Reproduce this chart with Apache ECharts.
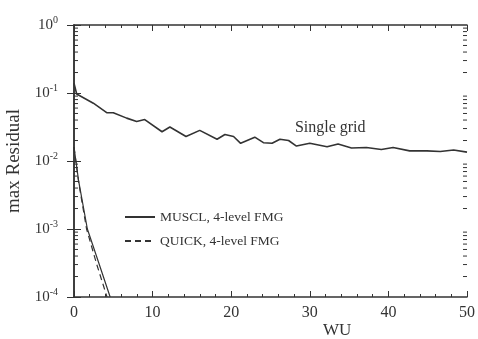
<!DOCTYPE html>
<html lang="en">
  <head>
    <meta charset="utf-8" />
    <title>max Residual vs WU</title>
    <script
      type="text/javascript"
      src="https://cdn.jsdelivr.net/npm/echarts@6/dist/echarts.min.js"
    ></script>
    <style type="text/css">
      * {
        margin: 0;
        padding: 0;
      }
      html,
      body,
      #chart {
        width: 100%;
        height: 100%;
        overflow: hidden;
        background: #fff;
      }
    </style>
  </head>
  <body>
    <div id="chart"></div>
    <script type="text/javascript">
      // [WU, max residual]
      var singleGrid = [
        [0, 0.139], [0.34, 0.0966], [2.46, 0.0708], [4.16, 0.0513], [5.0, 0.0513],
        [6.7, 0.0427], [7.97, 0.038], [9.0, 0.0407], [11.2, 0.0269], [12.2, 0.0316],
        [14.25, 0.0229], [16.0, 0.0282], [18.2, 0.0209], [19.2, 0.0245], [20.3, 0.0229],
        [21.2, 0.0182], [23.0, 0.0224], [24.1, 0.0186], [25.2, 0.0182], [26.2, 0.0209],
        [27.3, 0.02], [28.3, 0.0166], [30.0, 0.0182], [32.2, 0.0162], [33.6, 0.0178],
        [35.3, 0.0155], [37.2, 0.0158], [39.1, 0.0148], [40.6, 0.0158], [42.7, 0.0141],
        [44.9, 0.0141], [46.6, 0.0138], [48.3, 0.0145], [50, 0.0135]
      ];
      var musclFmg = [
        [0, 0.016], [0.6, 0.005], [1.7, 0.001], [3.1, 0.00033], [4.6, 0.0001]
      ];
      var quickFmg = [
        [0, 0.016], [0.6, 0.0048], [1.6, 0.001], [2.9, 0.0003], [4.2, 0.0001]
      ];
      var xTicks = [0, 10, 20, 30, 40, 50];
      // minor log ticks 2..9 in each decade
      var minorLogTicks = [];
      [1e-4, 1e-3, 1e-2, 1e-1].forEach(function (d) {
        for (var k = 2; k <= 9; k++) minorLogTicks.push([k * d]);
      });

      var ink = "#333";
      var font = "Liberation Serif";

      var chart = echarts.init(document.getElementById("chart"));

      var xCommon = {
        type: "value",
        min: 0,
        max: 50,
        interval: 10,
        axisLine: { lineStyle: { color: ink, width: 1.5 } },
        axisTick: { inside: true, length: 6, lineStyle: { color: ink } },
        minorTick: { show: true, splitNumber: 5, length: 3, lineStyle: { color: ink } },
        splitLine: { show: false }
      };
      var yCommon = {
        type: "log",
        logBase: 10,
        min: 1e-4,
        max: 1,
        axisLine: { show: true, lineStyle: { color: ink, width: 1.5 } },
        axisTick: { inside: true, length: 7, lineStyle: { color: ink } },
        splitLine: { show: false }
      };

      chart.setOption({
        animation: false,
        textStyle: { fontFamily: font, color: ink },
        grid: { left: 74, right: 11, top: 25, bottom: 42, outerBoundsMode: "none" },
        legend: {
          data: ["MUSCL, 4-level FMG", "QUICK, 4-level FMG"],
          orient: "vertical",
          left: 119,
          top: 205,
          itemWidth: 30,
          itemHeight: 10,
          itemGap: 10,
          itemStyle: { opacity: 0 },
          textStyle: { fontFamily: font, fontSize: 13.5, color: ink }
        },
        xAxis: [
          Object.assign({}, xCommon, {
            position: "bottom",
            axisLabel: {
              fontFamily: font,
              fontSize: 16,
              color: ink,
              margin: 8,
              customValues: xTicks
            }
          }),
          Object.assign({}, xCommon, {
            position: "top",
            axisLabel: { show: false }
          })
        ],
        yAxis: [
          Object.assign({}, yCommon, {
            position: "left",
            name: "max Residual",
            nameLocation: "middle",
            nameGap: 44,
            nameTextStyle: { fontFamily: font, fontSize: 19, color: ink },
            axisLabel: {
              margin: 16,
              formatter: function (v) {
                return "{b|10}{s|" + Math.round(Math.log10(v)) + "}";
              },
              rich: {
                b: { fontFamily: font, fontSize: 15, color: ink },
                s: { fontFamily: font, fontSize: 10, color: ink, padding: [0, 0, 9, 0] }
              }
            }
          }),
          Object.assign({}, yCommon, {
            position: "right",
            axisLabel: { show: false }
          })
        ],
        graphic: [
          {
            type: "text",
            left: 323,
            top: 322,
            style: { text: "WU", fontFamily: font, fontSize: 17, fill: ink }
          }
        ],
        series: [
          {
            name: "Single grid",
            type: "line",
            data: singleGrid,
            symbol: "none",
            lineStyle: { color: ink, width: 1.6 },
            markPoint: {
              symbol: "rect",
              symbolSize: 1,
              itemStyle: { color: "rgba(0,0,0,0)" },
              label: {
                show: true,
                position: "inside",
                formatter: "Single grid",
                fontFamily: font,
                fontSize: 16,
                color: ink
              },
              data: [{ coord: [32.6, 0.0306] }]
            }
          },
          {
            name: "MUSCL, 4-level FMG",
            type: "line",
            data: musclFmg,
            symbol: "none",
            lineStyle: { color: ink, width: 1.2 },
            itemStyle: { color: ink }
          },
          {
            name: "QUICK, 4-level FMG",
            type: "line",
            data: quickFmg,
            symbol: "none",
            lineStyle: { color: ink, width: 1.2, type: [6, 4] },
            itemStyle: { color: ink }
          },
          {
            // minor log ticks on left and right frame edges
            type: "custom",
            silent: true,
            data: minorLogTicks,
            encode: { y: 0 },
            renderItem: function (params, api) {
              var v = api.value(0);
              var l = api.coord([0, v]);
              var r = api.coord([50, v]);
              var st = { stroke: ink, lineWidth: 1 };
              return {
                type: "group",
                children: [
                  { type: "line", shape: { x1: l[0], y1: l[1], x2: l[0] + 4, y2: l[1] }, style: st },
                  { type: "line", shape: { x1: r[0], y1: r[1], x2: r[0] - 4, y2: r[1] }, style: st }
                ]
              };
            }
          }
        ]
      });
    </script>
  </body>
</html>
